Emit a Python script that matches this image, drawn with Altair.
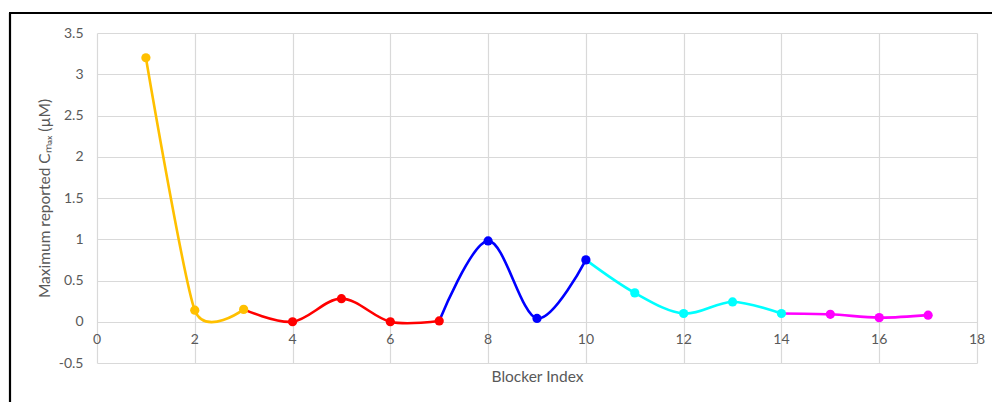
import altair as alt
import pandas as pd

# Data
blocker = [1, 2, 3, 4, 5, 6, 7, 8, 9, 10, 11, 12, 13, 14, 15, 16, 17]
cmax = [3.20, 0.14, 0.15, 0.00, 0.28, 0.00, 0.01, 0.98, 0.04, 0.75,
        0.35, 0.10, 0.24, 0.10, 0.09, 0.05, 0.08]
# series segments (first index, last index) and colours
seg_names = ["A", "B", "C", "D", "E"]
seg_ranges = [(1, 3), (3, 7), (7, 10), (10, 14), (14, 17)]
seg_colors = ["#FFC000", "#FF0000", "#0000FF", "#00FFFF", "#FF00FF"]
# point colour group
point_group = ["A", "A", "A", "B", "B", "B", "B", "C", "C", "C",
               "D", "D", "D", "D", "E", "E", "E"]
x_tick_labels = [0, 2, 4, 6, 8, 10, 12, 14, 16, 18]
y_tick_values = [-0.5, 0, 0.5, 1, 1.5, 2, 2.5, 3, 3.5]

# style: smoothing tension per series
seg_tension = [0.35, 0.0, 0.0, 0.0, 0.0]

FONT = "Lato"
GRAY = "#595959"

xs = alt.Scale(domain=[0, 18], nice=False, zero=False)
ys = alt.Scale(domain=[-0.5, 3.5], nice=False, zero=False)
color = alt.Color("seg:N", scale=alt.Scale(domain=seg_names, range=seg_colors), legend=None)

x_enc = alt.X("x:Q", scale=xs, axis=alt.Axis(
    values=x_tick_labels, grid=True, labels=False, ticks=False, domain=False,
    title="Blocker Index", titleFont=FONT, titleFontSize=15.5, titleFontWeight="normal",
    titleColor=GRAY, titlePadding=6, gridColor="#d9d9d9", gridWidth=1.2))
y_enc = alt.Y("y:Q", scale=ys, axis=alt.Axis(
    values=y_tick_values, grid=True, ticks=False, domain=False,
    labelExpr="toString(datum.value)", labelFont=FONT, labelFontSize=14, labelColor=GRAY,
    labelPadding=14,
    title="Maximum reported Cₘₐₓ (µM)", titleFont=FONT, titleFontSize=15.5,
    titleFontWeight="normal", titleColor=GRAY, titlePadding=6,
    gridColor="#d9d9d9", gridWidth=1.2))

layers = []
for k, (name, (a, b)) in enumerate(zip(seg_names, seg_ranges)):
    df = pd.DataFrame({"x": blocker[a - 1:b], "y": cmax[a - 1:b], "seg": name})
    enc_x = x_enc if k == 0 else alt.X("x:Q", scale=xs)
    enc_y = y_enc if k == 0 else alt.Y("y:Q", scale=ys)
    layers.append(
        alt.Chart(df).mark_line(interpolate="cardinal", tension=seg_tension[k],
                                strokeWidth=2.6).encode(x=enc_x, y=enc_y, color=color))

pt_df = pd.DataFrame({"x": blocker, "y": cmax, "seg": point_group})
tick_df = pd.DataFrame({"x": x_tick_labels, "y": [0] * len(x_tick_labels)})

points = alt.Chart(pt_df).mark_point(filled=True, size=85, opacity=1).encode(
    x=alt.X("x:Q", scale=xs), y=alt.Y("y:Q", scale=ys), color=color)
ticks = alt.Chart(tick_df).mark_text(font=FONT, fontSize=14, color=GRAY, dy=18).encode(
    x=alt.X("x:Q", scale=xs), y=alt.Y("y:Q", scale=ys), text="x:Q")

one = pd.DataFrame({"k": [0]})
border_left = alt.Chart(one).mark_rule(color="black", strokeWidth=2.2, clip=False).encode(
    x=alt.value(-87), y=alt.value(-20), y2=alt.value(420))
border_top = alt.Chart(one).mark_rule(color="black", strokeWidth=2.2, clip=False).encode(
    x=alt.value(-88), x2=alt.value(920), y=alt.value(-20))

chart = alt.layer(*layers, points, ticks, border_left, border_top).properties(
    width=880, height=330,
    padding={"left": 97, "top": 33, "right": 15, "bottom": 39},
    autosize=alt.AutoSizeParams(type="none"),
    background="white",
).configure_view(stroke=None)

chart.save("out.html", embed_options={"renderer": "svg", "actions": False})
